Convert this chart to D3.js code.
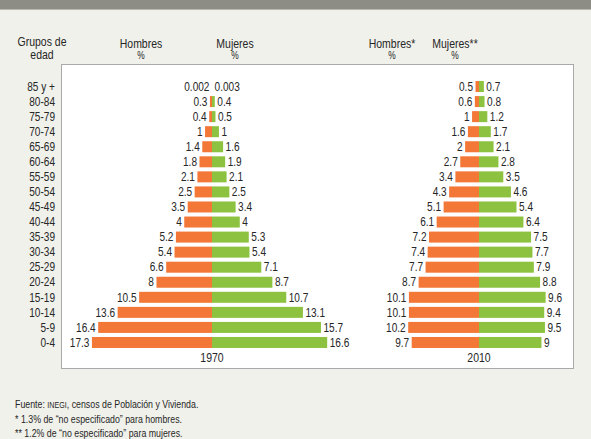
<!DOCTYPE html>
<html><head><meta charset="utf-8">
<script src="https://cdn.jsdelivr.net/npm/d3@7"></script>
<style>
html,body{margin:0;padding:0;background:#f1f1eb;}
svg{display:block;}
text{font-family:"Liberation Sans",Arial,sans-serif;fill:#262626;}
</style></head><body>
<svg id="c" width="591" height="439"></svg>
<script>
const ageGroups = ["85 y +","80-84","75-79","70-74","65-69","60-64","55-59","50-54","45-49","40-44","35-39","30-34","25-29","20-24","15-19","10-14","5-9","0-4"];
const men1970   = [0.002,0.3,0.4,1,1.4,1.8,2.1,2.5,3.5,4,5.2,5.4,6.6,8,10.5,13.6,16.4,17.3];
const women1970 = [0.003,0.4,0.5,1,1.6,1.9,2.1,2.5,3.4,4,5.3,5.4,7.1,8.7,10.7,13.1,15.7,16.6];
const men2010   = [0.5,0.6,1,1.6,2,2.7,3.4,4.3,5.1,6.1,7.2,7.4,7.7,8.7,10.1,10.1,10.2,9.7];
const women2010 = [0.7,0.8,1.2,1.7,2.1,2.8,3.5,4.6,5.4,6.4,7.5,7.7,7.9,8.8,9.6,9.4,9.5,9];
const years = ["1970","2010"];
const notes = ["* 1.3% de \u201cno especificado\u201d para hombres.","** 1.2% de \u201cno especificado\u201d para mujeres."];

const svg = d3.select("#c");
const ORANGE = "#f37736", GREEN = "#8cc23f";
const SX = 0.84; // condensed look
function at(sel, fx, fy){ return sel.attr("transform",(d,i)=>`translate(${fx(d,i)},${fy(d,i)}) scale(${SX},1)`); }

// top band
svg.append("rect").attr("x",0).attr("y",0).attr("width",591).attr("height",9).attr("fill","#8d8d85");
svg.append("rect").attr("x",0).attr("y",9).attr("width",591).attr("height",1).attr("fill","#b8b8b0");

// panel
svg.append("rect").attr("x",61.5).attr("y",64.5).attr("width",512).attr("height",304)
  .attr("fill","#fff").attr("stroke","#a9a9a9").attr("stroke-width",1);

const y = d3.scaleBand().domain(ageGroups).range([79,350]).paddingInner(0.27).paddingOuter(0.135);
const x = d3.scaleLinear().domain([0,20]).range([0,138.8]);
const yc = d => y(d) + y.bandwidth()/2;

// age labels
at(svg.append("g").selectAll("text").data(ageGroups).join("text")
  .attr("dy","0.35em").attr("text-anchor","end").attr("font-size",12).text(d=>d),
  ()=>55, d=>yc(d));

// headers
const hdr = svg.append("g").attr("font-size",12.5).attr("text-anchor","middle");
at(hdr.append("text").text("Grupos de"), ()=>42, ()=>46);
at(hdr.append("text").text("edad"), ()=>42, ()=>59);
[[141,"Hombres"],[235,"Mujeres"],[392,"Hombres*"],[455,"Mujeres**"]].forEach(([cx,t])=>{
  at(hdr.append("text").text(t), ()=>cx, ()=>48);
  at(hdr.append("text").attr("font-size",10).text("%"), ()=>cx, ()=>59);
});

function pyramid(cx, men, women, year){
  const g = svg.append("g");
  const rows = ageGroups.map((a,i)=>({a, m:men[i], w:women[i]}));
  g.selectAll("rect.m").data(rows).join("rect")
    .attr("x",d=>cx - x(d.m)).attr("y",d=>y(d.a)).attr("width",d=>x(d.m)).attr("height",y.bandwidth())
    .attr("fill",ORANGE);
  g.selectAll("rect.w").data(rows).join("rect")
    .attr("x",cx).attr("y",d=>y(d.a)).attr("width",d=>x(d.w)).attr("height",y.bandwidth())
    .attr("fill",GREEN);
  at(g.selectAll("text.m").data(rows).join("text")
    .attr("dy","0.35em").attr("text-anchor","end").attr("font-size",12).text(d=>d.m),
    d=>cx - x(d.m) - 2.5, d=>yc(d.a));
  at(g.selectAll("text.w").data(rows).join("text")
    .attr("dy","0.35em").attr("text-anchor","start").attr("font-size",12).text(d=>d.w),
    d=>cx + x(d.w) + 2.5, d=>yc(d.a));
  at(g.append("text").attr("text-anchor","middle").attr("font-size",12.5).text(year), ()=>cx, ()=>362);
}
pyramid(212, men1970, women1970, years[0]);
pyramid(479, men2010, women2010, years[1]);

// footnotes
const fn = svg.append("g").attr("font-size",10.5);
const src = at(fn.append("text"), ()=>15, ()=>408);
src.append("tspan").text("Fuente: ");
src.append("tspan").attr("font-size",8.5).text("INEGI");
src.append("tspan").text(", censos de Población y Vivienda.");
notes.forEach((t,i)=>{
  at(fn.append("text").text(t), ()=>15, ()=>422.5+i*14.5);
});
</script>
</body></html>
